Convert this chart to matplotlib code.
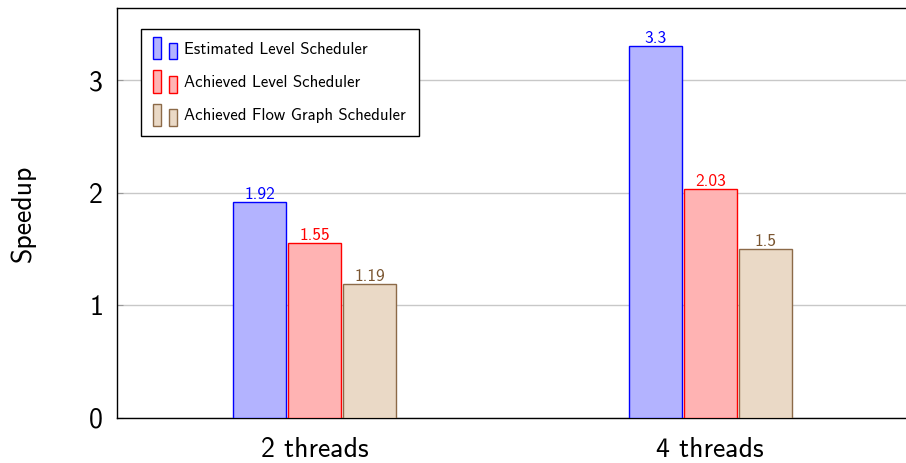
import matplotlib
matplotlib.use('Agg')
import matplotlib.pyplot as plt
from matplotlib.patches import Rectangle
from matplotlib.legend_handler import HandlerBase

plt.rcParams['font.family'] = ['cmss10', 'DejaVu Sans']
plt.rcParams['axes.formatter.use_mathtext'] = True

categories = ['2 threads', '4 threads']
estimated_level = [1.92, 3.3]
achieved_level = [1.55, 2.03]
achieved_flow = [1.19, 1.5]

series = [
    ('Estimated Level Scheduler', estimated_level, '#b3b3ff', '#0000ff', '#0000ff'),
    ('Achieved Level Scheduler', achieved_level, '#ffb3b3', '#ff0000', '#ff0000'),
    ('Achieved Flow Graph Scheduler', achieved_flow, '#ead9c6', '#8c6a48', '#7a5530'),
]


class TwoBarHandler(HandlerBase):
    # pgfplots style legend: two small bars of different height
    def create_artists(self, legend, orig_handle, xdescent, ydescent,
                       width, height, fontsize, trans):
        fc = orig_handle.get_facecolor()
        ec = orig_handle.get_edgecolor()
        w = width * 0.33
        y0 = -ydescent - height * 0.3
        r1 = Rectangle((-xdescent, y0), w, height * 1.6,
                       facecolor=fc, edgecolor=ec, lw=1, transform=trans)
        r2 = Rectangle((-xdescent + width * 0.65, y0), w, height * 1.2,
                       facecolor=fc, edgecolor=ec, lw=1, transform=trans)
        return [r1, r2]


fig = plt.figure(figsize=(9.06, 4.63), dpi=100)
ax = fig.add_axes([117 / 906, 45 / 463, 791 / 906, 410 / 463])

x = list(range(len(categories)))
step = 0.139
width = 0.134
handles = []
for i, (name, vals, fc, ec, tc) in enumerate(series):
    pos = [xi + (i - 1) * step for xi in x]
    bars = ax.bar(pos, vals, width, color=fc, edgecolor=ec, linewidth=1, label=name, zorder=3)
    ax.bar_label(bars, labels=[str(v) for v in vals], color=tc, fontsize=12.5, padding=0)
    handles.append(bars.patches[0])

ax.set_xlim(-0.5, 1.5)
ax.set_ylim(0, 3.64)
ax.set_xticks(x)
ax.set_xticklabels(categories, fontsize=20)
ax.set_yticks([0, 1, 2, 3])
ax.set_yticklabels(['0', '1', '2', '3'], fontsize=20)
ax.tick_params(axis='x', length=0, pad=14)
ax.tick_params(axis='y', direction='in', length=4, color='#999999', pad=10)
ax.yaxis.grid(True, color='#c8c8c8', linewidth=1, zorder=0)
ax.set_axisbelow(True)
ax.set_ylabel('Speedup', fontsize=20, labelpad=38)
for s in ax.spines.values():
    s.set_linewidth(1)
ax.spines['right'].set_visible(False)

leg = ax.legend(handles, [s[0] for s in series], handler_map={Rectangle: TwoBarHandler()},
                loc='upper left', bbox_to_anchor=(0.0303, 0.949), borderaxespad=0,
                fontsize=12, frameon=True, fancybox=False, edgecolor='black', framealpha=1,
                handlelength=1.45, handleheight=0.9, labelspacing=1.05, handletextpad=0.4,
                borderpad=0.75)
leg.get_frame().set_linewidth(1)

fig.savefig('out.png', dpi=100)
